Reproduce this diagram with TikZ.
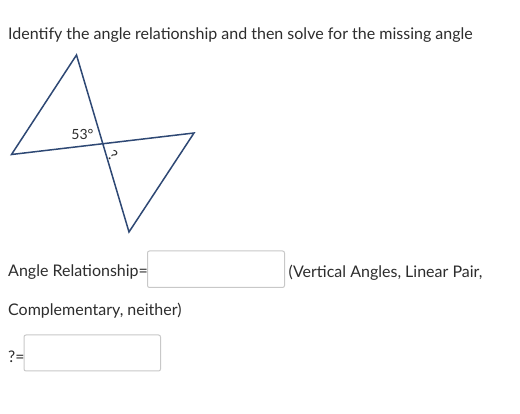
\documentclass[tikz,border=0pt]{standalone}
\usepackage{fontspec}
\setmainfont{Lato}
\definecolor{edgeblue}{HTML}{2E4874}
\definecolor{boxgray}{HTML}{C8C8C8}
\definecolor{textgray}{HTML}{2D2D2D}

\begin{document}
\begin{tikzpicture}[x=1pt,y=-1pt,
    txt/.style={anchor=west,inner sep=0pt,text=textgray,font=\fontsize{16}{19}\selectfont},
    ansbox/.style={draw=boxgray,line width=1pt,rounded corners=2pt},
    edge/.style={draw=edgeblue,line width=1.5pt,line join=miter}]
        \useasboundingbox (0,0) rectangle (520,414);
        \fill[white] (0,0) rectangle (520,414);
        \node[txt] (question) at (8,35) {Identify the angle relationship and then solve for the missing angle};
        % the two triangles
        \coordinate (top) at (76.5,55);
        \coordinate (left) at (11.5,154.5);
        \coordinate (right) at (194,133);
        \coordinate (bottom) at (129,232);
        \draw[edge] (left) -- (top) -- (bottom) -- (right) -- cycle;
        \node[text=textgray,font=\fontsize{14}{16}\selectfont] (given) at (82.5,134.5) {53°};
        \node[text=textgray,font=\fontsize{15}{17}\selectfont,rotate=-40] (unknown) at (113,156) {?};
        % answer fields
        \node[txt] (relation) at (8,272.5) {Angle Relationship=};
        \draw[ansbox] (147.5,251) rectangle (284.5,287.5);
        \node[txt] (choices) at (288.5,272.5) {(Vertical Angles, Linear Pair,};
        \node[txt] (choices2) at (8,311) {Complementary, neither)};
        \node[txt] (ask) at (8,357) {?=};
        \draw[ansbox] (24,335) rectangle (160.5,371);
    \end{tikzpicture}
\end{document}
